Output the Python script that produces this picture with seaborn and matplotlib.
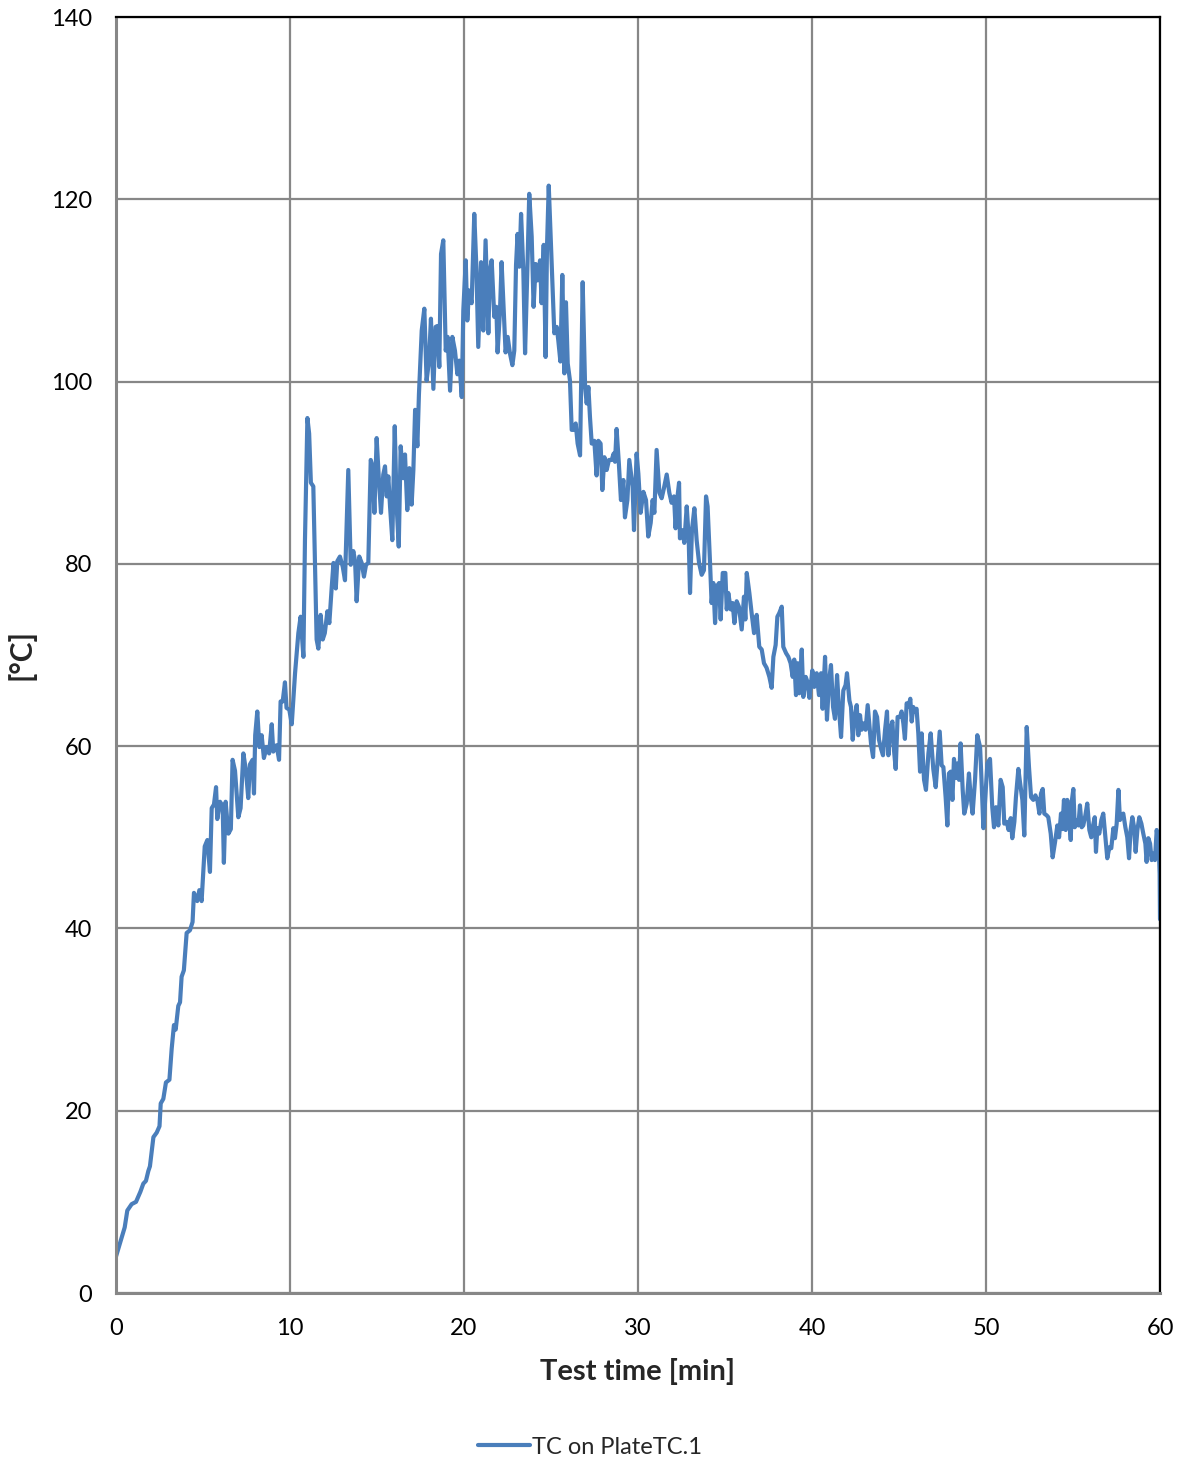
import numpy as np
import pandas as pd
import matplotlib
matplotlib.use("Agg")
import matplotlib.pyplot as plt
import seaborn as sns

# ---- data ----
t_00_10 = [0.0, 0.5, 0.65, 0.9, 1.15, 1.4, 1.57, 1.72, 1.86, 1.95, 2.15, 2.34, 2.5, 2.57, 2.72, 2.87, 3.07, 3.2,
           3.33, 3.43, 3.58, 3.68, 3.77, 3.9, 4.06, 4.25, 4.4, 4.48, 4.67, 4.79, 4.92, 5.1, 5.25, 5.4, 5.5, 5.63,
           5.75, 5.82, 5.98, 6.13, 6.2, 6.3, 6.46, 6.6, 6.7, 6.84, 7.03, 7.16, 7.32, 7.47, 7.6, 7.7, 7.85, 7.93,
           8.0, 8.12, 8.24, 8.37, 8.5, 8.66, 8.8, 8.95, 9.04, 9.23, 9.37, 9.46, 9.58, 9.71, 9.8, 9.96, 10.1]
v_00_10 = [4.0, 7.2, 9.05, 9.75, 10.0, 11.1, 12.0, 12.3, 13.4, 13.9, 17.1, 17.6, 18.3, 20.8, 21.3, 23.1, 23.4, 26.8,
           29.4, 28.9, 31.5, 31.9, 34.7, 35.4, 39.5, 39.8, 40.7, 43.9, 43.0, 44.2, 43.0, 49.0, 49.7, 46.2, 53.2, 53.6,
           55.5, 52.0, 53.9, 53.4, 47.2, 53.9, 50.4, 50.9, 58.5, 57.3, 52.2, 53.2, 59.2, 57.3, 54.3, 58.0, 58.5, 54.8,
           61.2, 63.8, 59.9, 61.2, 58.7, 59.9, 59.2, 62.4, 59.4, 60.1, 58.5, 64.9, 64.9, 67.0, 64.2, 64.0, 62.4]

t_10_20 = [10.29, 10.48, 10.61, 10.77, 10.86, 11.0, 11.1, 11.2, 11.34, 11.44, 11.53, 11.63, 11.76, 11.88, 12.0,
           12.15, 12.26, 12.4, 12.5, 12.63, 12.72, 12.87, 13.03, 13.16, 13.35, 13.49, 13.64, 13.74, 13.83, 13.98,
           14.12, 14.25, 14.37, 14.5, 14.64, 14.75, 14.85, 14.98, 15.11, 15.23, 15.36, 15.46, 15.56, 15.65, 15.75,
           15.88, 16.02, 16.13, 16.25, 16.36, 16.51, 16.61, 16.74, 16.86, 16.99, 17.09, 17.19, 17.32,
           17.41, 17.57, 17.72, 17.85, 17.99, 18.1, 18.24, 18.37, 18.47, 18.58, 18.68, 18.81, 18.95, 19.06, 19.2,
           19.33, 19.48, 19.62, 19.73, 19.87]
v_10_20 = [68.0, 72.4, 74.2, 69.8, 82.6, 96.0, 94.3, 88.9, 88.5, 79.7, 71.7, 70.7, 74.4, 71.7, 72.4,
           74.8, 73.5, 77.5, 80.1, 77.3, 80.3, 80.8, 79.7, 78.2, 90.3, 79.9, 81.4, 80.3, 75.9, 80.8,
           80.1, 78.6, 79.9, 80.1, 91.4, 90.7, 85.6, 93.8, 89.2, 85.6, 89.8, 90.7, 87.4, 89.6, 86.3,
           82.6, 95.1, 86.3, 81.9, 92.9, 89.4, 92.0, 85.9, 90.5, 86.5, 90.3, 96.9, 92.9,
           98.6, 105.6, 108.0, 100.1, 102.3, 106.9, 99.2, 106.0, 106.1, 101.6, 114.0, 115.5, 103.4, 104.9, 99.0,
           104.9, 103.4, 100.8, 102.3, 98.3]

t_20_30 = [19.96, 20.1, 20.19, 20.29, 20.44, 20.59, 20.71, 20.82, 20.98, 21.11, 21.24, 21.4, 21.49, 21.59, 21.74,
           21.86, 21.93, 22.07, 22.16, 22.3, 22.39, 22.51, 22.64, 22.78, 22.89, 22.99, 23.08, 23.18, 23.28, 23.41,
           23.51, 23.64, 23.75, 23.89, 24.0, 24.12, 24.23, 24.37, 24.46, 24.58, 24.69, 24.77, 24.87, 24.98, 25.08,
           25.19, 25.33, 25.42, 25.54, 25.65, 25.77, 25.86, 25.96, 26.09, 26.19, 26.32, 26.42, 26.53, 26.67, 26.82,
           26.96, 27.05, 27.15, 27.24, 27.34, 27.49, 27.62, 27.72, 27.85, 27.95, 28.07, 28.2, 28.33, 28.49, 28.6,
           28.68, 28.77, 28.9, 29.02, 29.16, 29.25, 29.39, 29.5, 29.69, 29.77, 29.92]
v_20_30 = [107.8, 113.3, 106.7, 110.0, 108.6, 118.4, 112.6, 103.8, 113.1, 105.6, 115.5, 105.3, 112.2, 113.3, 107.1,
           108.2, 103.2, 107.8, 113.1, 107.1, 103.2, 104.9, 103.1, 101.8, 103.4, 112.8, 116.2, 112.6, 118.4, 112.2,
           103.1, 112.2, 120.6, 115.9, 108.2, 112.9, 111.1, 113.3, 108.6, 115.0, 102.7, 114.8, 121.5, 115.9, 110.7,
           105.3, 106.0, 104.5, 102.2, 111.7, 100.9, 108.7, 102.0, 100.1, 94.7, 94.7, 95.4, 93.2, 91.9, 110.9,
           99.4, 97.6, 99.4, 96.1, 93.2, 93.5, 89.7, 93.5, 93.2, 88.1, 91.7, 90.3, 91.4, 91.4, 92.1,
           91.2, 94.8, 91.0, 87.0, 89.2, 85.1, 87.0, 91.4, 88.5, 83.7, 92.1]

t_30_40 = [30.02, 30.15, 30.31, 30.46, 30.59, 30.73, 30.84, 30.94, 31.07, 31.23, 31.36, 31.49, 31.65, 31.8, 31.93,
           32.07, 32.16, 32.26, 32.36, 32.41, 32.55, 32.66, 32.8, 32.91, 32.99, 33.1, 33.24, 33.37, 33.51, 33.66,
           33.79, 33.91, 34.0, 34.14, 34.23, 34.33, 34.43, 34.52, 34.66, 34.75, 34.87, 35.02, 35.1, 35.19, 35.33,
           35.44, 35.54, 35.67, 35.8, 35.96, 36.09, 36.17, 36.25, 36.4, 36.53, 36.67, 36.82, 36.97, 37.11, 37.24,
           37.39, 37.55, 37.68, 37.78, 37.91, 38.01, 38.12, 38.26, 38.35, 38.51, 38.64, 38.77, 38.89, 38.98, 39.08,
           39.18, 39.27, 39.41, 39.5, 39.64, 39.73, 39.85]
v_30_40 = [89.9, 85.6, 87.9, 87.0, 83.0, 84.5, 87.0, 85.6, 92.5, 87.8, 87.2, 88.3, 89.8, 87.8, 86.7,
           87.4, 83.9, 87.2, 88.9, 82.8, 83.7, 82.3, 86.3, 83.0, 76.8, 83.7, 86.1, 82.6, 80.1, 78.8,
           79.3, 87.4, 86.3, 80.1, 75.7, 77.9, 73.5, 77.5, 77.9, 73.9, 79.0, 79.0, 75.0, 76.8, 75.0,
           75.7, 73.5, 75.9, 75.3, 72.8, 76.4, 73.9, 79.0, 76.8, 74.6, 72.4, 74.4, 70.9, 70.6, 69.1,
           68.6, 67.6, 66.4, 69.8, 71.1, 74.2, 74.6, 75.3, 70.9, 70.2, 69.8, 69.1, 67.6, 69.5, 65.6,
           69.1, 65.8, 70.6, 65.4, 67.6, 67.1, 65.3]

t_40_50 = [40.02, 40.13, 40.27, 40.4, 40.52, 40.61, 40.75, 40.86, 40.98, 41.09, 41.21, 41.32, 41.44, 41.55, 41.67,
           41.8, 41.93, 42.01, 42.15, 42.24, 42.34, 42.43, 42.57, 42.66, 42.76, 42.85, 42.97, 43.08, 43.2, 43.3,
           43.39, 43.51, 43.62, 43.74, 43.85, 43.97, 44.08, 44.2, 44.31, 44.39, 44.5, 44.62, 44.71, 44.81, 44.92,
           45.06, 45.15, 45.25, 45.34, 45.44, 45.54, 45.65, 45.73, 45.82, 45.92, 46.01, 46.11, 46.21, 46.3, 46.44,
           46.55, 46.69, 46.82, 46.97, 47.11, 47.22, 47.34, 47.45, 47.55, 47.68, 47.78, 47.87, 47.97, 48.07, 48.16,
           48.26, 48.35, 48.45, 48.54, 48.66, 48.75, 48.89, 49.02, 49.12, 49.23, 49.37, 49.5, 49.66, 49.75, 49.85,
           49.94]
v_40_50 = [68.3, 66.5, 68.0, 65.6, 68.0, 64.1, 69.8, 62.9, 67.2, 68.9, 64.3, 63.0, 67.8, 64.1, 61.0,
           66.1, 66.7, 68.0, 65.0, 64.3, 60.7, 62.9, 64.5, 61.2, 63.4, 61.8, 62.5, 61.8, 64.5, 62.3,
           60.3, 58.8, 63.8, 63.2, 60.7, 59.7, 59.0, 61.8, 63.8, 59.0, 61.8, 62.7, 59.6, 57.5, 63.2,
           63.2, 63.8, 62.5, 60.8, 64.7, 64.3, 65.2, 62.7, 64.3, 63.8, 64.1, 61.4, 57.2, 61.4, 56.3,
           55.2, 59.2, 61.4, 57.5, 55.5, 58.5, 61.6, 57.9, 57.7, 54.4, 51.3, 57.0, 57.2, 54.1, 58.6,
           56.5, 58.1, 56.3, 60.3, 55.2, 52.6, 53.7, 57.0, 54.4, 52.6, 56.3, 61.2, 59.9, 55.9, 51.0,
           53.7]

t_50_60 = [50.08, 50.23, 50.36, 50.46, 50.57, 50.71, 50.84, 50.96, 51.05, 51.19, 51.3, 51.42, 51.51, 51.63, 51.72,
           51.86, 51.95, 52.09, 52.2, 52.34, 52.47, 52.59, 52.72, 52.84, 52.95, 53.07, 53.16, 53.26, 53.35, 53.49,
           53.58, 53.72, 53.83, 53.97, 54.1, 54.2, 54.31, 54.39, 54.48, 54.58, 54.67, 54.77, 54.87, 54.94, 55.02,
           55.1, 55.21, 55.31, 55.4, 55.5, 55.59, 55.71, 55.82, 55.94, 56.05, 56.13, 56.25, 56.32, 56.4, 56.51,
           56.63, 56.74, 56.86, 56.97, 57.09, 57.2, 57.32, 57.41, 57.51, 57.61, 57.7, 57.8, 57.89, 58.01, 58.12,
           58.22, 58.31, 58.41, 58.51, 58.6, 58.7, 58.81, 58.93, 59.04, 59.16, 59.23, 59.33, 59.43, 59.52, 59.62,
           59.71, 59.81, 59.92, 59.98, 60.0]
v_50_60 = [58.1, 58.6, 53.3, 51.1, 53.3, 51.3, 56.3, 55.5, 51.5, 51.7, 50.8, 52.1, 49.9, 51.7, 54.4,
           57.5, 56.1, 54.1, 50.2, 62.1, 57.7, 54.4, 54.1, 54.6, 54.1, 52.6, 54.8, 55.3, 52.6, 52.4,
           52.2, 50.4, 47.8, 49.5, 51.3, 50.0, 52.6, 50.9, 54.1, 50.8, 54.1, 52.2, 49.7, 54.1, 55.3,
           51.1, 51.9, 51.3, 53.5, 51.1, 51.3, 52.4, 53.7, 50.8, 50.0, 51.1, 52.2, 48.4, 51.0, 50.4,
           51.9, 52.6, 50.0, 47.7, 48.9, 48.8, 51.0, 49.9, 51.5, 55.2, 51.9, 52.4, 52.6, 51.1, 50.0,
           47.7, 50.8, 52.2, 51.1, 48.4, 50.8, 52.2, 51.5, 50.4, 49.3, 47.3, 49.9, 49.3, 47.5, 48.2,
           47.5, 50.8, 49.3, 46.0, 41.0]

x_ticks = [0, 10, 20, 30, 40, 50, 60]
y_ticks = [0, 20, 40, 60, 80, 100, 120, 140]
x_label = "Test time [min]"
y_label = "[°C]"
series_name = "TC on PlateTC.1"

df = pd.DataFrame({
    "time": t_00_10 + t_10_20 + t_20_30 + t_30_40 + t_40_50 + t_50_60,
    "temp": v_00_10 + v_10_20 + v_20_30 + v_30_40 + v_40_50 + v_50_60,
})
df["series"] = series_name

# ---- style ----
sns.set_style("white")
plt.rcParams["font.family"] = ["Lato", "DejaVu Sans"]

W, H, DPI = 1182, 1462, 100
fig = plt.figure(figsize=(W / DPI, H / DPI), dpi=DPI)
ax = fig.add_axes([116 / W, 1 - 1293 / H, (1160 - 116) / W, (1293 - 17) / H])

grid_c = "#878787"
line_c = "#4a7ebb"

sns.lineplot(data=df, x="time", y="temp", hue="series", palette=[line_c],
             linewidth=3, ax=ax, sort=False, legend=True)

ax.set_xlim(0, 60)
ax.set_ylim(0, 140)
ax.set_xticks(x_ticks)
ax.set_yticks(y_ticks)
ax.grid(True, color=grid_c, linewidth=1.6)
ax.set_axisbelow(True)

for side in ["left", "bottom"]:
    ax.spines[side].set_color(grid_c)
    ax.spines[side].set_linewidth(2.2)
for side in ["top", "right"]:
    ax.spines[side].set_color("black")
    ax.spines[side].set_linewidth(1.6)
    ax.spines[side].set_visible(True)

ax.tick_params(axis="both", which="major", direction="out", length=5, width=1.6,
               color=grid_c, labelsize=17, labelcolor="black")
ax.tick_params(axis="x", pad=13)
ax.tick_params(axis="y", pad=12)

ax.set_xlabel(x_label, fontsize=21, fontweight="bold", labelpad=14)
ax.set_ylabel(y_label, fontsize=21.5, fontweight="bold", labelpad=11)

leg = ax.get_legend()
handles, labels = ax.get_legend_handles_labels()
leg.remove()
fig.legend(handles, labels, loc="center", bbox_to_anchor=(590 / W, 1 - 1447 / H),
           frameon=False, fontsize=17, handlelength=2.2, handletextpad=0.1)

fig.savefig("out.png", dpi=DPI)
